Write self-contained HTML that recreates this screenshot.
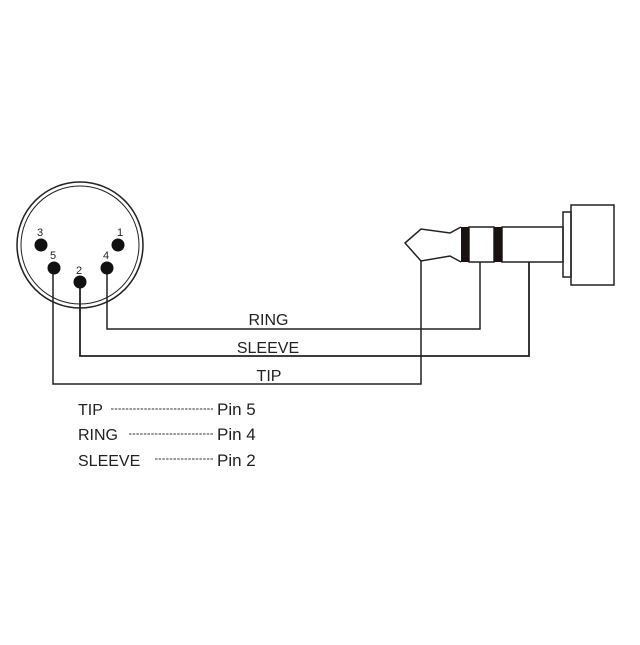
<!DOCTYPE html>
<html><head><style>body{margin:0;background:#fff}</style></head><body>
<svg width="640" height="640" viewBox="0 0 640 640" xmlns="http://www.w3.org/2000/svg" font-family="Liberation Sans, sans-serif">
<rect width="640" height="640" fill="#fff"/>
<g fill="none" stroke="#222">
<circle cx="80" cy="245" r="63" stroke-width="1.5"/>
<circle cx="80" cy="245" r="59" stroke-width="1"/>
<polyline points="107,268 107,329 480,329 480,262" stroke-width="1.5"/>
<polyline points="80,282 80,356 529,356 529,262" stroke-width="1.8"/>
<polyline points="53,268 53,384 421,384 421,260" stroke-width="1.5"/>
<path d="M461,227 L450,233 L421,229 L405,243 L421,261 L450,256 L461,262" stroke-width="1.5"/>
<rect x="469" y="227" width="25" height="35" stroke-width="1.5"/>
<rect x="502" y="227" width="61" height="35" stroke-width="1.5"/>
<rect x="563" y="212" width="8" height="65" stroke-width="1.5"/>
<rect x="571" y="205" width="43" height="80" stroke-width="1.5"/>
<g stroke-dasharray="2.5,1.2" stroke-width="1" stroke="#333">
<line x1="111" y1="409" x2="213" y2="409"/>
<line x1="129" y1="434" x2="213" y2="434"/>
<line x1="155" y1="459" x2="213" y2="459"/>
</g>
</g>
<rect x="461" y="227" width="8" height="35" fill="#1a1210"/>
<rect x="494" y="227" width="8" height="35" fill="#1a1210"/>
<g fill="#111">
<circle cx="41" cy="245" r="6.5"/>
<circle cx="118" cy="245" r="6.5"/>
<circle cx="54" cy="268" r="6.5"/>
<circle cx="80" cy="282" r="6.5"/>
<circle cx="107" cy="268" r="6.5"/>
</g>
<g font-size="11" fill="#222" text-anchor="middle">
<text x="40" y="236">3</text><text x="120" y="236">1</text>
<text x="53" y="259">5</text><text x="79" y="274">2</text><text x="106" y="259">4</text>
</g>
<g font-size="16" fill="#222">
<text x="268.5" y="325" text-anchor="middle">RING</text>
<text x="268" y="353" text-anchor="middle">SLEEVE</text>
<text x="269" y="381" text-anchor="middle">TIP</text>
<text x="78" y="415">TIP</text><text x="217" y="415" font-size="17">Pin 5</text>
<text x="78" y="440">RING</text><text x="217" y="440" font-size="17">Pin 4</text>
<text x="78" y="466">SLEEVE</text><text x="217" y="466" font-size="17">Pin 2</text>
</g>
</svg>
</body></html>
